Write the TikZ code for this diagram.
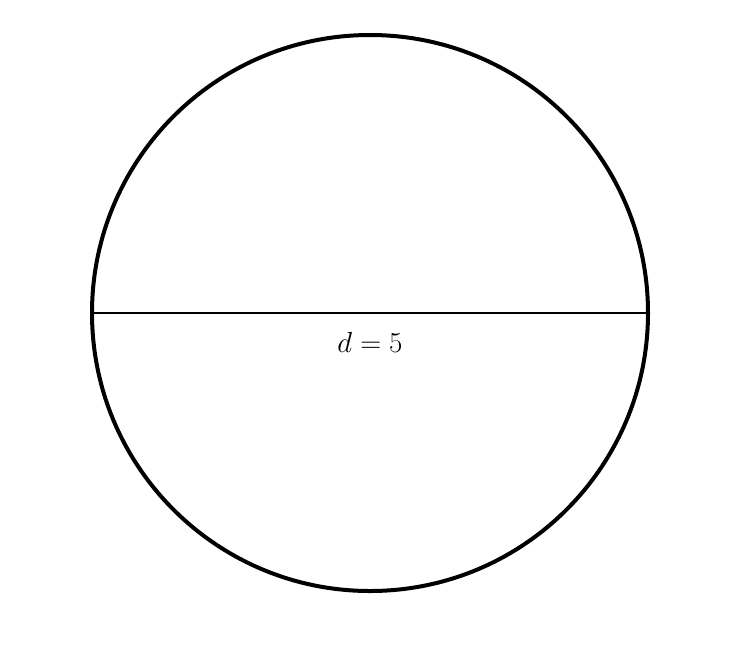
\RequirePackage{fix-cm}
\documentclass[tikz,border=0pt]{standalone}
\usepackage{amsmath}
\usepackage{tikz}
\usetikzlibrary{positioning}

\begin{document}
\begin{tikzpicture}[x=1pt,y=1pt,auto,
                    rim/.style={draw,circle,line width=4pt,minimum size=556pt,inner sep=0pt},
                    chord/.style={line width=2.5pt}]
  \useasboundingbox (0,0) rectangle (738,-662);

  \node[rim]        (O) at (370,-313) {};
  \node[font=\fontsize{29}{35}\selectfont] (d) [below=16pt of O.center] {$d = 5$};

  \draw[chord] (O.west) -- (O.east);
\end{tikzpicture}
\end{document}
